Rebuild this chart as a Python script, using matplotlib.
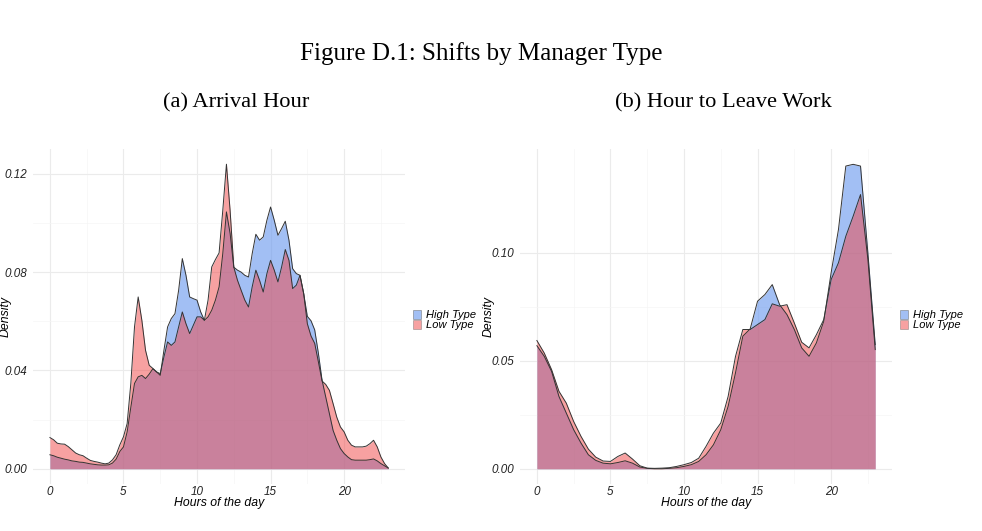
import numpy as np
import matplotlib.pyplot as plt
from matplotlib.patches import Patch

# (a) Arrival hour densities, read at quarter-hour steps
arr_hours = np.arange(0, 23.01, 0.25)
arr_high = [0.0057, 0.0053, 0.0047, 0.0043, 0.0039, 0.0036, 0.0032, 0.0030, 0.0027, 0.0026,
            0.0023, 0.0020, 0.0018, 0.0016, 0.0015, 0.0015, 0.0016, 0.0023, 0.0039, 0.0070,
            0.0089, 0.0150, 0.0250, 0.0347, 0.0374, 0.0380, 0.0367, 0.0385, 0.0407, 0.0394,
            0.0380, 0.0482, 0.0577, 0.0611, 0.0631, 0.0726, 0.0855, 0.0787, 0.0699, 0.0692,
            0.0686, 0.0638, 0.0604, 0.0618, 0.0645, 0.0686, 0.0740, 0.0875, 0.1045, 0.0957,
            0.0820, 0.0808, 0.0800, 0.0787, 0.0780, 0.0875, 0.0954, 0.0930, 0.0943, 0.1011,
            0.1065, 0.1011, 0.0950, 0.0977, 0.1007, 0.0930, 0.0814, 0.0794, 0.0787, 0.0713,
            0.0620, 0.0602, 0.0565, 0.0470, 0.0360, 0.0292, 0.0224, 0.0156, 0.0116, 0.0082,
            0.0062, 0.0048, 0.0037, 0.0035, 0.0035, 0.0035, 0.0035, 0.0037, 0.0040, 0.0032,
            0.0021, 0.0012, 0.0003]
arr_low = [0.0127, 0.0118, 0.0104, 0.0101, 0.0100, 0.0090, 0.0077, 0.0064, 0.0057, 0.0053,
           0.0043, 0.0034, 0.0030, 0.0027, 0.0023, 0.0020, 0.0023, 0.0036, 0.0057, 0.0097,
           0.0130, 0.0184, 0.0347, 0.0577, 0.0699, 0.0604, 0.0482, 0.0421, 0.0408, 0.0394,
           0.0387, 0.0455, 0.0516, 0.0502, 0.0516, 0.0577, 0.0638, 0.0590, 0.0550, 0.0584,
           0.0618, 0.0618, 0.0604, 0.0686, 0.0821, 0.0851, 0.0878, 0.1050, 0.1239, 0.1050,
           0.0820, 0.0767, 0.0726, 0.0686, 0.0658, 0.0740, 0.0808, 0.0767, 0.0719, 0.0794,
           0.0848, 0.0808, 0.0760, 0.0821, 0.0892, 0.0848, 0.0733, 0.0747, 0.0787, 0.0713,
           0.0590, 0.0540, 0.0510, 0.0435, 0.0357, 0.0343, 0.0319, 0.0265, 0.0210, 0.0170,
           0.0150, 0.0116, 0.0096, 0.0089, 0.0089, 0.0089, 0.0092, 0.0102, 0.0116, 0.0089,
           0.0048, 0.0021, 0.0003]

# (b) Hour to leave work densities, read at half-hour steps
lv_hours = np.arange(0, 23.01, 0.5)
lv_high = [0.0570, 0.0521, 0.0451, 0.0335, 0.0258, 0.0181, 0.0119, 0.0065, 0.0039, 0.0026,
           0.0023, 0.0029, 0.0037, 0.0026, 0.0008, 0.0002, 0.0000, 0.0000, 0.0002, 0.0005,
           0.0011, 0.0019, 0.0034, 0.0065, 0.0111, 0.0181, 0.0289, 0.0444, 0.0614, 0.0648,
           0.0776, 0.0807, 0.0853, 0.0760, 0.0714, 0.0645, 0.0560, 0.0521, 0.0583, 0.0683,
           0.0907, 0.1108, 0.1402, 0.1410, 0.1402, 0.1000, 0.0575]
lv_low = [0.0594, 0.0536, 0.0459, 0.0359, 0.0304, 0.0219, 0.0150, 0.0091, 0.0054, 0.0036,
          0.0034, 0.0057, 0.0073, 0.0045, 0.0014, 0.0003, 0.0002, 0.0003, 0.0005, 0.0011,
          0.0019, 0.0029, 0.0049, 0.0104, 0.0165, 0.0212, 0.0335, 0.0520, 0.0645, 0.0645,
          0.0668, 0.0691, 0.0764, 0.0753, 0.0760, 0.0675, 0.0586, 0.0560, 0.0621, 0.0691,
          0.0876, 0.0954, 0.1077, 0.1170, 0.1270, 0.0970, 0.0552]

groups = ["High Type", "Low Type"]
col_high = "#6495ED"
col_low = "#F04545"

sans = "Liberation Sans"
serif = "Liberation Serif"

fig = plt.figure(figsize=(9.82, 5.31), dpi=100)

def panel(left, x, high, low, yticks, ylim, ylab_x):
    ax = fig.add_axes([left, 0.0885, 0.379, 0.6305])
    ax.fill_between(x, high, color=col_high, alpha=0.6, lw=0)
    ax.plot(x, high, color="#333333", lw=0.7)
    ax.fill_between(x, low, color=col_low, alpha=0.5, lw=0)
    ax.plot(x, low, color="#333333", lw=0.7)
    ax.set_xlim(-1.15, 24.15)
    ax.set_ylim(*ylim)
    ax.set_xticks([0, 5, 10, 15, 20])
    ax.set_xticks([2.5, 7.5, 12.5, 17.5, 22.5], minor=True)
    ax.set_yticks(yticks)
    ax.set_yticklabels(["%.2f" % v for v in yticks])
    ax.set_yticks([(a + b) / 2 for a, b in zip(yticks[:-1], yticks[1:])], minor=True)
    ax.grid(True, which="major", color="#ebebeb", lw=0.8)
    ax.grid(True, which="minor", color="#f5f5f5", lw=0.5)
    ax.set_axisbelow(True)
    for s in ax.spines.values():
        s.set_visible(False)
    ax.tick_params(which="both", length=0, labelsize=8.4, labelcolor="#222222", pad=4)
    ax.tick_params(axis="x", pad=1.5)
    for t in ax.get_xticklabels() + ax.get_yticklabels():
        t.set_fontfamily(sans)
        t.set_fontstyle("italic")
    ax.set_xlabel("Hours of the day", fontsize=8.8, fontfamily=sans, fontstyle="italic", labelpad=-1)
    ax.set_ylabel("Density", fontsize=8.8, fontfamily=sans, fontstyle="italic")
    ax.yaxis.set_label_coords(ylab_x, 0.5)
    handles = [Patch(facecolor=col_high, alpha=0.6, edgecolor="#555555", lw=0.5),
               Patch(facecolor=col_low, alpha=0.5, edgecolor="#555555", lw=0.5)]
    ax.legend(handles, groups, loc="center left", bbox_to_anchor=(1.005, 0.49),
              frameon=False, handlelength=0.75, handleheight=0.9, handletextpad=0.5,
              labelspacing=0.0, borderpad=0,
              prop={"family": sans, "style": "italic", "size": 8})
    return ax

ax1 = panel(0.0336, arr_hours, arr_high, arr_low, [0.00, 0.04, 0.08, 0.12],
            (-0.0062, 0.130), -0.058)
ax2 = panel(0.5295, lv_hours, lv_high, lv_low, [0.00, 0.05, 0.10],
            (-0.00705, 0.148), -0.068)

fig.text(0.49, 0.900, "Figure D.1: Shifts by Manager Type", ha="center", va="center",
         fontsize=18, fontfamily=serif)
fig.text(0.241, 0.806, "(a) Arrival Hour", ha="center", va="center", fontsize=16.2, fontfamily=serif)
fig.text(0.737, 0.806, "(b) Hour to Leave Work", ha="center", va="center", fontsize=16.2, fontfamily=serif)

fig.savefig("out.png", dpi=100)
